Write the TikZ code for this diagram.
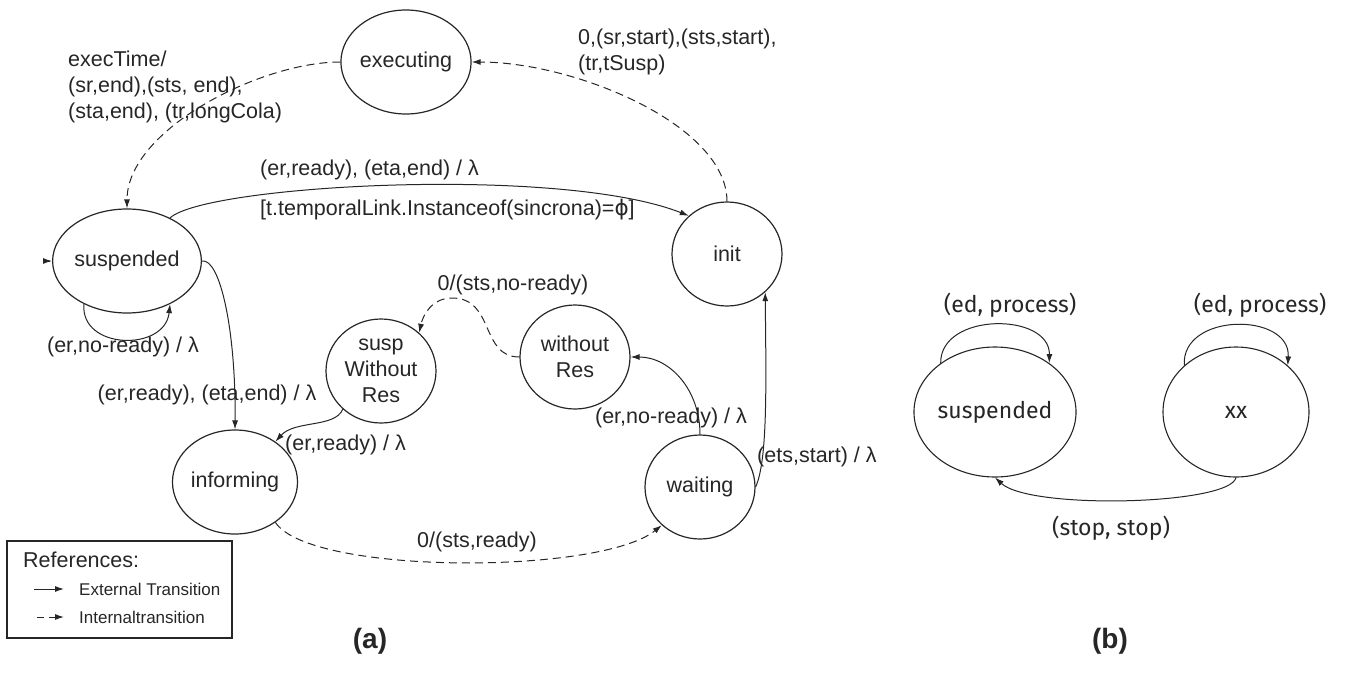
\documentclass[tikz,border=0pt]{standalone}
\usepackage{fontspec}
\setmainfont{Liberation Sans}
\newfontfamily\symfont{DejaVu Sans}
\newfontfamily\handfont{Fira Sans}
\usetikzlibrary{shapes.geometric,arrows.meta}
\colorlet{ink}{black!85}
\newcommand\lblsize{\fontsize{21.5}{26}\selectfont}
\newcommand\legsize{\fontsize{17}{20}\selectfont}
\newcommand\handsize{\handfont\fontsize{23}{27}\selectfont}
\newcommand\phisym{{\symfont ϕ}}

\tikzset{
  stnode/.style={ellipse, draw=ink, line width=1.2pt, minimum width=110pt,
    minimum height=104pt, inner sep=0pt, text=ink, font=\lblsize, align=center},
  bnode/.style={ellipse, draw=ink, line width=1.1pt, minimum width=146pt,
    minimum height=130pt, inner sep=0pt, text=ink, font=\handsize},
  ext/.style={draw=ink, line width=1pt, -{Latex[length=9pt,width=6pt]}},
  int/.style={ext, dash pattern=on 8pt off 5pt},
  lab/.style={text=ink, font=\lblsize, inner sep=0pt, align=left},
  leglab/.style={text=ink, font=\legsize, inner sep=0pt, anchor=west},
  blab/.style={text=ink, font=\handsize, inner sep=0pt},
  caption/.style={text=ink, font=\fontsize{28}{32}\selectfont\bfseries, inner sep=0pt},
}

\begin{document}
\begin{tikzpicture}[x=1pt, y=1pt]
  \useasboundingbox (0,0) rectangle (1347,-675);

  % ---------- (a) states ----------
  \node[stnode, minimum width=118pt] (exec) at (406,-62) {executing};
  \node[stnode] (init) at (727,-254) {init};
  \node[stnode] (susp) at (127,-261) {suspended};
  \node[stnode] (swr) at (381,-371) {susp\\Without\\Res};
  \node[stnode] (wr) at (575,-357) {without\\Res};
  \node[stnode] (inform) at (235,-482) {informing};
  \node[stnode] (wait) at (700,-487) {waiting};

  % ---------- (a) transitions ----------
  \draw[int] (exec.west) .. controls (260,-62) and (127,-130) .. (susp.north);
  \node[lab, anchor=north west] (l1) at (68,-51)
    {execTime/\\(sr,end),(sts, end),\\(sta,end), (tr,longCola)};

  \draw[int] (init.north) .. controls (727,-125) and (575,-62) .. (exec.east);
  \node[lab, anchor=north west] (l2) at (578,-29)
    {0,(sr,start),(sts,start),\\(tr,tSusp)};

  \draw[ext] (susp.45) .. controls (205,-185) and (560,-165) .. (init.135);
  \node[lab, anchor=west] (l3) at (260,-170) {(er,ready), (eta,end) / λ};
  \node[lab, anchor=west] (l4) at (260,-210)
    {[t.temporalLink.Instanceof(sincrona)=\phisym]};

  \coordinate (entry) at (50,-261);
  \draw[ext] (entry) -- (susp.west);

  \draw[ext] (susp.225) .. controls (80,-350) and (165,-352) .. (susp.-45);
  \node[lab] (l5) at (123,-347) {(er,no-ready) / λ};

  \draw[ext] (susp.east) .. controls (220,-258) and (236,-330) .. (inform.north);
  \node[lab] (l6) at (207,-395) {(er,ready), (eta,end) / λ};

  \draw[ext] (swr.225) .. controls (335,-428) and (295,-420) .. (inform.45);
  \node[lab, anchor=west] (l7) at (285,-445) {(er,ready) / λ};

  \draw[int] (wr.west) .. controls (480,-357) and (495,-298) .. (452,-298)
    .. controls (432,-298) and (423,-315) .. (swr.45);
  \node[lab] (l8) at (513,-285) {0/(sts,no-ready)};

  \draw[ext] (wait.north) .. controls (700,-390) and (670,-357) .. (wr.east);
  \node[lab] (l9) at (671,-418) {(er,no-ready) / λ};

  \draw[ext] (wait.east) .. controls (768,-460) and (766,-380) .. (init.-45);
  \node[lab, anchor=west] (l10) at (757,-457) {(ets,start) / λ};

  \draw[int] (inform.-45) .. controls (310,-575) and (600,-575) .. (wait.225);
  \node[lab, anchor=west] (l11) at (417,-542) {0/(sts,ready)};

  % ---------- legend ----------
  \draw[draw=ink, line width=1.2pt] (7,-541) rectangle (232,-638);
  \node[lab, anchor=west] (refs) at (23,-560) {References:};
  \coordinate (ea) at (34,-589); \coordinate (eb) at (64,-589);
  \draw[ext] (ea) -- (eb);
  \node[leglab] (lext) at (79,-589) {External Transition};
  \coordinate (ia) at (37,-617); \coordinate (ib) at (64,-617);
  \draw[ext, dash pattern=on 7pt off 5pt] (ia) -- (ib);
  \node[leglab] (lint) at (79,-617) {Internaltransition};

  \node[caption] (capa) at (370,-641) {(a)};

  % ---------- (b) ----------
  \node[bnode] (bs) at (995,-412) {suspended};
  \node[bnode] (bx) at (1236,-412) {xx};

  \draw[ext] (bs.138) .. controls (940,-312) and (1050,-312) .. (bs.42);
  \node[blab] (b1) at (1010,-305) {(ed, process)};
  \draw[ext] (bx.138) .. controls (1181,-312) and (1291,-312) .. (bx.42);
  \node[blab] (b2) at (1260,-305) {(ed, process)};

  \draw[ext] (bx.south) .. controls (1230,-505) and (1030,-510) .. (bs.south);
  \node[blab] (b3) at (1111,-528) {(stop, stop)};

  \node[caption] (capb) at (1110,-641) {(b)};
\end{tikzpicture}
\end{document}
